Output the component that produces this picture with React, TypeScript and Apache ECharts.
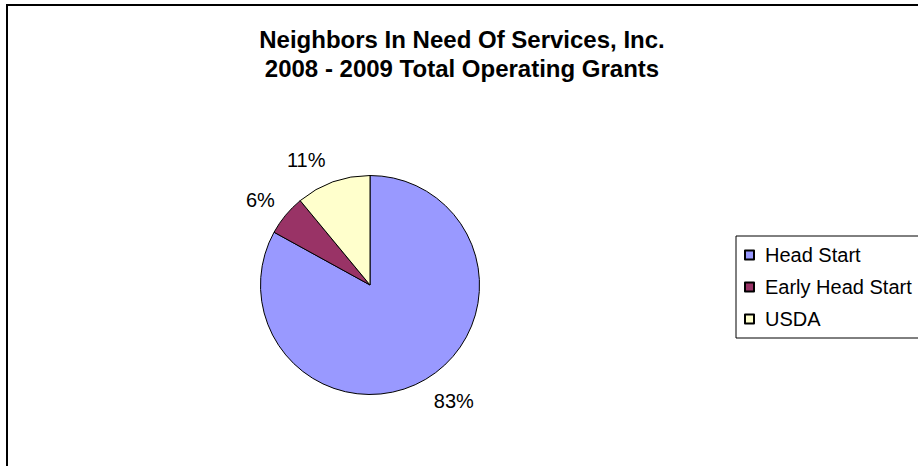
import React, { useEffect, useRef } from "react";
import * as echarts from "echarts";

const titleLines = ["Neighbors In Need Of Services, Inc.", "2008 - 2009 Total Operating Grants"];
const categories = ["Head Start", "Early Head Start", "USDA"];
const shares = [83, 6, 11];
const sliceColors = ["#9999FF", "#993366", "#FFFFCC"];

// small nudges of each percentage label away from its ring position
const labelNudges = [
  [12, -5],
  [-1, 5],
  [-16, 8],
];

const FONT = "'Liberation Sans', Arial, Helvetica, sans-serif";

export default function App() {
  const ref = useRef<HTMLDivElement>(null);

  useEffect(() => {
    if (!ref.current) return;
    const chart = echarts.init(ref.current, null, { renderer: "svg" });
    const data = categories.map((name, i) => ({
      name,
      value: shares[i],
      itemStyle: { color: sliceColors[i] },
    }));
    const center = [370, 285];
    chart.setOption({
      animation: false,
      backgroundColor: "#ffffff",
      title: {
        text: titleLines.join("\n"),
        left: 462,
        top: 25,
        textAlign: "center",
        padding: 0,
        textStyle: {
          fontFamily: FONT,
          fontSize: 24,
          fontWeight: "bold",
          color: "#000",
          lineHeight: 29,
        },
      },
      legend: {
        orient: "vertical",
        left: 736,
        top: 236,
        padding: [9, 12, 9, 8],
        itemGap: 12,
        itemWidth: 9,
        itemHeight: 9,
        icon: "rect",
        borderColor: "#000",
        borderWidth: 1,
        borderRadius: 0,
        selectedMode: false,
        data: categories,
        textStyle: {
          fontFamily: FONT,
          fontSize: 20,
          color: "#000",
          padding: [0, 0, 0, 6],
        },
      },
      graphic: [
        {
          type: "rect",
          silent: true,
          shape: { x: 7, y: 5, width: 2000, height: 2000 },
          style: { fill: "none", stroke: "#000", lineWidth: 2 },
          z: 100,
        },
      ],
      series: [
        {
          type: "pie",
          center,
          radius: 109.5,
          startAngle: 90,
          clockwise: true,
          label: { show: false },
          labelLine: { show: false },
          emphasis: { disabled: true },
          itemStyle: { borderColor: "#000", borderWidth: 1 },
          data,
        },
        {
          type: "pie",
          center,
          radius: [128, 148],
          startAngle: 90,
          clockwise: true,
          silent: true,
          emphasis: { disabled: true },
          itemStyle: { color: "transparent", borderWidth: 0 },
          label: {
            show: true,
            position: "inside",
            formatter: "{c}%",
            fontFamily: FONT,
            fontSize: 20,
            color: "#000",
          },
          labelLine: { show: false },
          labelLayout: (params: any) => {
            const n = labelNudges[params.dataIndex] || [0, 0];
            return { dx: n[0], dy: n[1] };
          },
          data: categories.map((name, i) => ({ name, value: shares[i] })),
        },
      ],
    });
    return () => chart.dispose();
  }, []);

  return (
    <div
      ref={ref}
      style={{ position: "absolute", left: 0, top: 0, width: 918, height: 466 }}
    />
  );
}
